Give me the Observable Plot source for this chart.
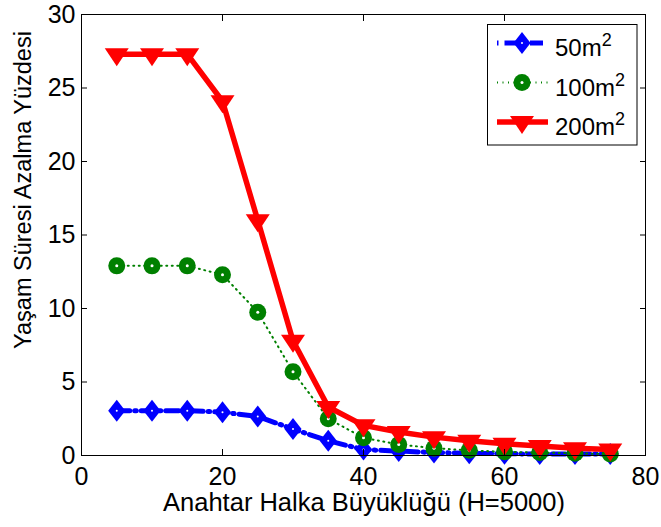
<!DOCTYPE html>
<html>
<head>
<meta charset="utf-8">
<script src="https://cdn.jsdelivr.net/npm/d3@7"></script>
<script src="https://cdn.jsdelivr.net/npm/@observablehq/plot@0.6"></script>
<style>
  html, body { margin: 0; padding: 0; background: #fff; }
  #chart { width: 661px; height: 527px; }
  svg { font-family: "Liberation Sans", Arial, sans-serif; }
</style>
</head>
<body>
<div id="chart"></div>
<script>
// ---- data ----
const ringSizes = [5, 10, 15, 20, 25, 30, 35, 40, 45, 50, 55, 60, 65, 70, 75];
const series50  = [3.05, 3.05, 3.05, 2.95, 2.65, 1.8, 1.0, 0.4, 0.3, 0.2, 0.15, 0.12, 0.1, 0.1, 0.1];
const series100 = [12.9, 12.9, 12.9, 12.3, 9.75, 5.7, 2.5, 1.2, 0.75, 0.5, 0.35, 0.25, 0.2, 0.15, 0.1];
const series200 = [27.3, 27.3, 27.3, 24.1, 16.0, 7.8, 3.3, 2.05, 1.6, 1.25, 1.0, 0.8, 0.65, 0.5, 0.4];
const seriesNames = ["50m", "100m", "200m"];
const xTicks = [0, 20, 40, 60, 80];
const yTicks = [0, 5, 10, 15, 20, 25, 30];
const xLabel = "Anahtar Halka Büyüklüğü (H=5000)";
const yLabel = "Yaşam Süresi Azalma Yüzdesi";

const colors = {"50m": "#0000ff", "100m": "#008000", "200m": "#ff0000"};
const table = [];
[series50, series100, series200].forEach((vals, i) => {
  vals.forEach((v, j) => table.push({series: seriesNames[i], x: ringSizes[j], y: v}));
});
const bySeries = s => table.filter(d => d.series === s);

// custom marker symbols
const diamond = {draw(ctx, size) {
  const r = Math.sqrt(size / Math.PI); const w = r * 0.78;
  ctx.moveTo(0, -r); ctx.lineTo(w, 0); ctx.lineTo(0, r); ctx.lineTo(-w, 0); ctx.closePath();
}};
const triDown = {draw(ctx, size) {
  const r = Math.sqrt(size / Math.PI);
  ctx.moveTo(-r * 1.0, -r * 0.5); ctx.lineTo(r * 1.0, -r * 0.5); ctx.lineTo(0, r); ctx.closePath();
}};

const font = {fontSize: 25, fill: "#000"};

const plot = Plot.plot({
  width: 661,
  height: 527,
  marginLeft: 81,
  marginRight: 16,
  marginTop: 14,
  marginBottom: 72,
  style: {fontFamily: "Liberation Sans, Arial, sans-serif", background: "#fff", overflow: "visible"},
  x: {domain: [0, 80]},
  y: {domain: [0, 30]},
  marks: [
    // 50 m²
    Plot.line(bySeries("50m"), {x: "x", y: "y", stroke: colors["50m"], strokeWidth: 5, strokeDasharray: "13,5,1.5,5"}),
    Plot.dot(bySeries("50m"), {x: "x", y: "y", r: 11, symbol: diamond, fill: colors["50m"], stroke: "none"}),
    Plot.dot(bySeries("50m"), {x: "x", y: "y", r: 1, fill: "#fff", stroke: "none"}),
    // 100 m²
    Plot.line(bySeries("100m"), {x: "x", y: "y", stroke: colors["100m"], strokeWidth: 2, strokeDasharray: "1,4.5"}),
    Plot.dot(bySeries("100m"), {x: "x", y: "y", r: 8.5, fill: colors["100m"], stroke: "none"}),
    Plot.dot(bySeries("100m"), {x: "x", y: "y", r: 1.5, fill: "#fff", stroke: "none"}),
    // 200 m²
    Plot.line(bySeries("200m"), {x: "x", y: "y", stroke: colors["200m"], strokeWidth: 5.5}),
    Plot.dot(bySeries("200m"), {x: "x", y: "y", r: 12, symbol: triDown, fill: colors["200m"], stroke: "none"}),
    // frame & axes
    Plot.frame({stroke: "#000", strokeWidth: 1}),
    Plot.axisX(xTicks, {anchor: "bottom", tickSize: -6, tickPadding: 18, ...font, stroke: "#000", label: null}),
    Plot.axisX(xTicks, {anchor: "top", tickSize: -6, tickFormat: () => "", stroke: "#000", label: null}),
    Plot.axisY(yTicks, {anchor: "left", tickSize: -6, tickPadding: 12, ...font, stroke: "#000", label: null}),
    Plot.axisY(yTicks, {anchor: "right", tickSize: -6, tickFormat: () => "", stroke: "#000", label: null})
  ]
});
document.getElementById("chart").appendChild(plot);

// axis titles and legend
const svg = d3.select(plot);
svg.append("text")
  .attr("x", 364).attr("y", 511)
  .attr("text-anchor", "middle").attr("font-size", 25.5).attr("fill", "#000")
  .text(xLabel);
svg.append("text")
  .attr("transform", "translate(31,190) rotate(-90)")
  .attr("text-anchor", "middle").attr("font-size", 23.5).attr("fill", "#000")
  .text(yLabel);

const lg = svg.append("g");
lg.append("rect").attr("x", 487.5).attr("y", 24.5).attr("width", 149.5).attr("height", 120.5)
  .attr("fill", "#fff").attr("stroke", "#000").attr("stroke-width", 1);
const legendStyles = [
  {dash: "1.5,6,13,5", w: 5, sym: diamond, r: 11, hole: 1},
  {dash: "1,4.5", w: 2, sym: d3.symbolCircle, r: 8.5, hole: 1.5},
  {dash: null, w: 5.5, sym: triDown, r: 12, hole: 0}
];
seriesNames.forEach((name, i) => {
  const cy = 43 + i * 39.5;
  const st = legendStyles[i];
  const c = colors[name];
  lg.append("line").attr("x1", 497).attr("x2", 548).attr("y1", cy).attr("y2", cy)
    .attr("stroke", c).attr("stroke-width", st.w)
    .attr("stroke-dasharray", st.dash);
  lg.append("path").attr("transform", `translate(522,${cy})`)
    .attr("d", d3.symbol(st.sym, st.r * st.r * Math.PI)()).attr("fill", c);
  if (st.hole) lg.append("circle").attr("cx", 522).attr("cy", cy).attr("r", st.hole).attr("fill", "#fff");
  const t = lg.append("text").attr("x", 555).attr("y", cy + 13)
    .attr("text-anchor", "start").attr("font-size", 24).attr("fill", "#000");
  t.append("tspan").text(name);
  t.append("tspan").attr("font-size", 18).attr("dy", -10).text("2");
});
</script>
</body>
</html>
